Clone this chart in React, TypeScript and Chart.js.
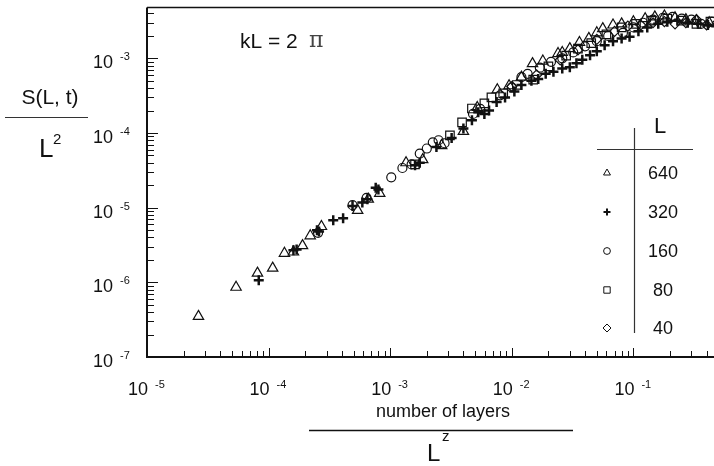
import React, { useEffect, useRef } from 'react';
import { Chart, registerables } from 'chart.js';

Chart.register(...registerables);

// ---- data ----
const seriesLabels = ['640', '320', '160', '80', '40'];

const triX = [2.65e-5, 5.4e-5, 8.1e-5, 1.08e-4, 1.35e-4, 1.6e-4, 1.9e-4, 2.2e-4, 2.72e-4, 5.4e-4, 6.6e-4, 8.2e-4, 1.35e-3, 1.85e-3, 2.65e-3, 4.0e-3, 5.2e-3, 7.6e-3, 9.5e-3, 1.2e-2, 1.48e-2, 1.8e-2, 2.4e-2, 2.6e-2, 3.0e-2, 3.6e-2, 4.3e-2, 5.0e-2, 5.6e-2, 6.8e-2, 8.0e-2, 1.0e-1, 1.25e-1, 1.5e-1, 1.8e-1, 2.2e-1, 2.7e-1, 3.3e-1, 4.2e-1];
const triY = [3.5e-7, 8.6e-7, 1.33e-6, 1.55e-6, 2.45e-6, 2.55e-6, 3.1e-6, 4.2e-6, 5.6e-6, 9.2e-6, 1.3e-5, 1.55e-5, 4.0e-5, 4.4e-5, 6.8e-5, 1.05e-4, 2.2e-4, 3.8e-4, 4.3e-4, 5.6e-4, 8.5e-4, 9.2e-4, 1.16e-3, 1.2e-3, 1.35e-3, 1.63e-3, 1.85e-3, 2.2e-3, 2.5e-3, 2.8e-3, 2.9e-3, 3.1e-3, 3.4e-3, 3.6e-3, 3.7e-3, 3.5e-3, 3.3e-3, 3.2e-3, 3.0e-3];

const plusX = [8.3e-5, 1.6e-4, 1.7e-4, 2.5e-4, 2.6e-4, 3.4e-4, 4.1e-4, 4.9e-4, 5.9e-4, 6.5e-4, 7.6e-4, 8.0e-4, 1.6e-3, 1.75e-3, 2.4e-3, 3.2e-3, 4.0e-3, 4.7e-3, 5.3e-3, 5.95e-3, 6.5e-3, 7.5e-3, 8.8e-3, 1.05e-2, 1.2e-2, 1.45e-2, 1.65e-2, 1.9e-2, 2.2e-2, 2.6e-2, 3.0e-2, 3.4e-2, 3.8e-2, 4.4e-2, 5.0e-2, 5.8e-2, 6.8e-2, 8.0e-2, 9.3e-2, 1.1e-1, 1.3e-1, 1.6e-1, 1.9e-1, 2.3e-1, 2.8e-1, 3.4e-1, 4.1e-1, 4.8e-1];
const plusY = [1.07e-6, 2.7e-6, 2.75e-6, 5.0e-6, 4.8e-6, 6.8e-6, 7.2e-6, 1.05e-5, 1.17e-5, 1.3e-5, 1.85e-5, 1.75e-5, 3.7e-5, 4.0e-5, 6.5e-5, 8.6e-5, 1.15e-4, 1.48e-4, 1.9e-4, 1.8e-4, 2.0e-4, 2.6e-4, 3.0e-4, 3.6e-4, 4.4e-4, 5.0e-4, 5.3e-4, 6.2e-4, 6.6e-4, 7.3e-4, 7.6e-4, 8.6e-4, 9.6e-4, 1.1e-3, 1.25e-3, 1.5e-3, 1.7e-3, 1.85e-3, 1.95e-3, 2.3e-3, 2.6e-3, 2.9e-3, 3.1e-3, 3.2e-3, 3.0e-3, 2.9e-3, 2.8e-3, 2.7e-3];

const circX = [2.55e-4, 4.9e-4, 6.4e-4, 1.02e-3, 1.26e-3, 1.5e-3, 1.75e-3, 2.0e-3, 2.24e-3, 2.5e-3, 2.8e-3, 4.8e-3, 5.5e-3, 8.0e-3, 1.0e-2, 1.2e-2, 1.35e-2, 1.7e-2, 2.1e-2, 2.6e-2, 3.2e-2, 4.0e-2, 5.0e-2, 6.2e-2, 8.2e-2, 1.0e-1, 1.2e-1, 1.45e-1, 1.75e-1, 2.1e-1, 2.5e-1, 3.0e-1, 3.6e-1, 4.4e-1];
const circY = [4.6e-6, 1.08e-5, 1.35e-5, 2.55e-5, 3.4e-5, 3.8e-5, 5.3e-5, 6.2e-5, 7.5e-5, 8.0e-5, 7.3e-5, 1.8e-4, 2.1e-4, 3.2e-4, 4.1e-4, 5.6e-4, 6.2e-4, 7.5e-4, 9.0e-4, 1.0e-3, 1.2e-3, 1.45e-3, 1.7e-3, 2.0e-3, 2.2e-3, 2.6e-3, 3.0e-3, 3.3e-3, 3.5e-3, 3.6e-3, 3.4e-3, 3.3e-3, 2.9e-3, 3.1e-3];

const sqX = [1.6e-3, 3.1e-3, 3.9e-3, 4.7e-3, 5.95e-3, 6.8e-3, 8.5e-3, 1.1e-2, 1.5e-2, 2.0e-2, 2.8e-2, 3.5e-2, 4.5e-2, 6.0e-2, 8.0e-2, 1.05e-1, 1.4e-1, 1.9e-1, 2.5e-1, 3.3e-1, 4.3e-1];
const sqY = [3.8e-5, 9.3e-5, 1.39e-4, 2.13e-4, 2.5e-4, 3.0e-4, 3.4e-4, 4.4e-4, 5.2e-4, 7.8e-4, 1.09e-3, 1.35e-3, 1.6e-3, 2.1e-3, 2.6e-3, 2.9e-3, 3.2e-3, 3.4e-3, 3.2e-3, 2.9e-3, 3.1e-3];

const diaX = [1.0e-2, 1.6e-2, 2.5e-2, 3.5e-2, 5.0e-2, 7.0e-2, 9.0e-2, 1.15e-1, 1.45e-1, 1.8e-1, 2.2e-1, 2.7e-1, 3.3e-1, 4.0e-1, 4.9e-1];
const diaY = [4.2e-4, 6.0e-4, 9.5e-4, 1.3e-3, 1.8e-3, 2.3e-3, 2.7e-3, 2.8e-3, 3.0e-3, 3.1e-3, 2.9e-3, 3.0e-3, 3.3e-3, 2.8e-3, 3.0e-3];

const xTickExponents = [-5, -4, -3, -2, -1];
const yTickExponents = [-7, -6, -5, -4, -3];

const X_MIN = 1e-5;
const X_MAX = 1;
const Y_MIN = 1e-7;
const Y_MAX = 4.8e-3;

const CANVAS_W = 770;
const CANVAS_H = 466;
const FONT = "'Liberation Sans', Arial, Helvetica, sans-serif";
const INK = '#111';

const zip = (xs: number[], ys: number[]) => xs.map((x, i) => ({ x, y: ys[i] }));

function drawSymbol(ctx: CanvasRenderingContext2D, kind: string, x: number, y: number, r: number) {
  ctx.beginPath();
  if (kind === 'triangle') {
    ctx.moveTo(x, y - r);
    ctx.lineTo(x + r * 0.866, y + r * 0.5);
    ctx.lineTo(x - r * 0.866, y + r * 0.5);
    ctx.closePath();
  } else if (kind === 'cross') {
    ctx.moveTo(x - r, y);
    ctx.lineTo(x + r, y);
    ctx.moveTo(x, y - r);
    ctx.lineTo(x, y + r);
  } else if (kind === 'circle') {
    ctx.arc(x, y, r * 0.85, 0, Math.PI * 2);
  } else if (kind === 'rect') {
    const s = r * 0.8;
    ctx.rect(x - s, y - s, 2 * s, 2 * s);
  } else if (kind === 'rectRot') {
    ctx.moveTo(x, y - r);
    ctx.lineTo(x + r, y);
    ctx.lineTo(x, y + r);
    ctx.lineTo(x - r, y);
    ctx.closePath();
  }
  ctx.stroke();
}

const legendStyles = ['triangle', 'cross', 'circle', 'rect', 'rectRot'];

const decorPlugin = {
  id: 'decor',
  beforeDraw(chart: any) {
    const ctx = chart.ctx as CanvasRenderingContext2D;
    ctx.save();
    ctx.fillStyle = '#fff';
    ctx.fillRect(0, 0, chart.width, chart.height);
    ctx.restore();
  },
  afterDraw(chart: any) {
    const ctx = chart.ctx as CanvasRenderingContext2D;
    const { left, top, right, bottom } = chart.chartArea;
    const xs = chart.scales.x;
    const ys = chart.scales.y;
    ctx.save();
    ctx.strokeStyle = INK;
    ctx.fillStyle = INK;

    // frame
    ctx.lineWidth = 2;
    ctx.beginPath();
    ctx.moveTo(left, top);
    ctx.lineTo(left, bottom);
    ctx.lineTo(right, bottom);
    ctx.stroke();
    ctx.lineWidth = 1.5;
    ctx.beginPath();
    ctx.moveTo(left, top);
    ctx.lineTo(right, top);
    ctx.stroke();

    // y ticks (inward)
    ctx.lineWidth = 1;
    for (let e = -7; e <= -3; e++) {
      for (let m = 1; m <= 9; m++) {
        const v = m * Math.pow(10, e);
        if (v < Y_MIN || v > Y_MAX) continue;
        const py = Math.round(ys.getPixelForValue(v)) + 0.5;
        const len = m === 1 ? 11 : 7;
        ctx.beginPath();
        ctx.moveTo(left, py);
        ctx.lineTo(left + len, py);
        ctx.stroke();
      }
    }
    // x ticks (inward)
    for (let e = -5; e <= 0; e++) {
      for (let m = 1; m <= 9; m++) {
        const v = m * Math.pow(10, e);
        if (v < X_MIN || v > X_MAX) continue;
        const px = Math.round(xs.getPixelForValue(v)) + 0.5;
        const len = m === 1 ? 9 : 6;
        ctx.beginPath();
        ctx.moveTo(px, bottom);
        ctx.lineTo(px, bottom - len);
        ctx.stroke();
      }
    }

    // y tick labels
    ctx.textBaseline = 'middle';
    for (const e of yTickExponents) {
      const py = ys.getPixelForValue(Math.pow(10, e));
      ctx.font = `18px ${FONT}`;
      ctx.textAlign = 'right';
      ctx.fillText('10', left - 34, py + 5);
      ctx.font = `11px ${FONT}`;
      ctx.textAlign = 'left';
      ctx.fillText(String(e), left - 27, py - 1);
    }
    // x tick labels
    for (const e of xTickExponents) {
      const px = xs.getPixelForValue(Math.pow(10, e));
      ctx.font = `18px ${FONT}`;
      ctx.textAlign = 'right';
      ctx.fillText('10', px + 1, bottom + 33);
      ctx.font = `11px ${FONT}`;
      ctx.textAlign = 'left';
      ctx.fillText(String(e), px + 8, bottom + 28);
    }

    // x title (fraction)
    ctx.textBaseline = 'alphabetic';
    ctx.textAlign = 'center';
    ctx.font = `18px ${FONT}`;
    ctx.fillText('number of layers', 443, 417);
    ctx.lineWidth = 1.5;
    ctx.beginPath();
    ctx.moveTo(309, 430.5);
    ctx.lineTo(573, 430.5);
    ctx.stroke();
    ctx.textAlign = 'left';
    ctx.font = `24px ${FONT}`;
    ctx.fillText('L', 427, 461);
    ctx.font = `15px ${FONT}`;
    ctx.fillText('z', 442, 441);

    // y title (fraction)
    ctx.textAlign = 'center';
    ctx.font = `21px ${FONT}`;
    ctx.fillText('S(L, t)', 50, 104);
    ctx.lineWidth = 1;
    ctx.strokeStyle = '#333';
    ctx.beginPath();
    ctx.moveTo(5, 117.5);
    ctx.lineTo(88, 117.5);
    ctx.stroke();
    ctx.strokeStyle = INK;
    ctx.textAlign = 'left';
    ctx.font = `26px ${FONT}`;
    ctx.fillText('L', 39, 157);
    ctx.font = `15px ${FONT}`;
    ctx.fillText('2', 53, 144);

    // annotation
    ctx.font = `21px ${FONT}`;
    ctx.fillText('kL = 2', 240, 48);
    ctx.font = `22px 'DejaVu Serif', 'Liberation Serif', serif`;
    ctx.fillStyle = '#444';
    ctx.fillText('\u03c0', 309, 47);
    ctx.fillStyle = INK;

    // legend table
    ctx.textAlign = 'center';
    ctx.font = `22px ${FONT}`;
    ctx.fillText('L', 660, 133);
    ctx.lineWidth = 1.2;
    ctx.strokeStyle = '#333';
    ctx.beginPath();
    ctx.moveTo(597, 149.5);
    ctx.lineTo(693, 149.5);
    ctx.moveTo(634.5, 128);
    ctx.lineTo(634.5, 333);
    ctx.stroke();
    const rowY = [173, 212, 251, 290, 328];
    ctx.textBaseline = 'middle';
    ctx.font = `18px ${FONT}`;
    seriesLabels.forEach((lab, i) => {
      ctx.fillStyle = INK;
      ctx.fillText(lab, 663, rowY[i] + 1);
      ctx.strokeStyle = INK;
      ctx.lineWidth = legendStyles[i] === 'cross' ? 2 : 1;
      drawSymbol(ctx, legendStyles[i], 607, rowY[i], legendStyles[i] === 'cross' ? 3.5 : 4);
    });

    ctx.restore();
  },
};

export default function App() {
  const ref = useRef<HTMLCanvasElement>(null);
  useEffect(() => {
    document.body.style.margin = '0';
    const canvas = ref.current!;
    const common = {
      showLine: false,
      borderColor: INK,
      backgroundColor: 'rgba(0,0,0,0)',
      borderWidth: 1.2,
    };
    const chart = new Chart(canvas, {
      type: 'scatter',
      data: {
        datasets: [
          { ...common, label: seriesLabels[1], data: zip(plusX, plusY), pointStyle: 'cross', pointRadius: 5, borderWidth: 2.5 },
          { ...common, label: seriesLabels[0], data: zip(triX, triY), pointStyle: 'triangle', pointRadius: 6 },
          { ...common, label: seriesLabels[2], data: zip(circX, circY), pointStyle: 'circle', pointRadius: 4.5 },
          { ...common, label: seriesLabels[3], data: zip(sqX, sqY), pointStyle: 'rect', pointRadius: 6 },
          { ...common, label: seriesLabels[4], data: zip(diaX, diaY), pointStyle: 'rectRot', pointRadius: 5 },
        ],
      },
      options: {
        animation: false,
        responsive: false,
        devicePixelRatio: 1,
        layout: { padding: { left: 147, top: 7, right: CANVAS_W - 755, bottom: CANVAS_H - 357 } },
        plugins: { legend: { display: false }, tooltip: { enabled: false }, title: { display: false } },
        scales: {
          x: { type: 'logarithmic', min: X_MIN, max: X_MAX, display: false },
          y: { type: 'logarithmic', min: Y_MIN, max: Y_MAX, display: false },
        },
      },
      plugins: [decorPlugin],
    } as any);
    return () => chart.destroy();
  }, []);
  return (
    <div style={{ position: 'fixed', left: 0, top: 0, width: 714, height: 466, overflow: 'hidden', background: '#fff' }}>
      <canvas ref={ref} width={CANVAS_W} height={CANVAS_H} style={{ display: 'block', width: CANVAS_W, height: CANVAS_H }} />
    </div>
  );
}
